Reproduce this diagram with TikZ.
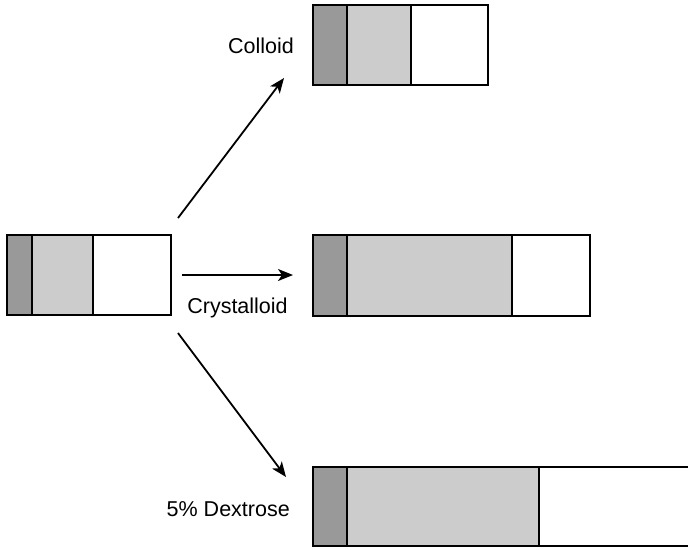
\documentclass[tikz,border=0pt]{standalone}
\usepackage{fontspec}
\setmainfont{Liberation Sans}
\usetikzlibrary{arrows.meta}
\definecolor{darkseg}{HTML}{999999}
\definecolor{lightseg}{HTML}{CCCCCC}
\tikzset{
  seg/.style={draw=black, line width=1.3pt, inner sep=0pt, outer sep=0pt,
    anchor=north west, minimum height=80pt},
  darkpart/.style={seg, fill=darkseg},
  lightpart/.style={seg, fill=lightseg},
  whitepart/.style={seg, fill=white},
  outline/.style={draw=black, line width=2pt},
  flow/.style={line width=1.8pt, -{Stealth[length=15pt, width=12pt, inset=4pt]}},
  lbl/.style={font=\fontsize{21.5}{25}\selectfont, inner sep=0pt}
}
\begin{document}
\begin{tikzpicture}[x=1pt, y=-1pt]
\clip (0,0) rectangle (688,549);
\fill[white] (0,0) rectangle (688,549);

% starting compartments
\node[darkpart, minimum width=25pt] (s1) at (7,235) {};
\node[lightpart, minimum width=61pt] (s2) at (32,235) {};
\node[whitepart, minimum width=78pt] (s3) at (93,235) {};
\draw[outline] (s1.north west) rectangle (s3.south east);

% after colloid
\node[darkpart, minimum width=34pt] (c1) at (313,5) {};
\node[lightpart, minimum width=64pt] (c2) at (347,5) {};
\node[whitepart, minimum width=77pt] (c3) at (411,5) {};
\draw[outline] (c1.north west) rectangle (c3.south east);

% after crystalloid
\node[darkpart, minimum width=34pt, minimum height=81pt] (k1) at (313,235) {};
\node[lightpart, minimum width=165pt, minimum height=81pt] (k2) at (347,235) {};
\node[whitepart, minimum width=78pt, minimum height=81pt] (k3) at (512,235) {};
\draw[outline] (k1.north west) rectangle (k3.south east);

% after 5% dextrose (runs past the right edge)
\node[darkpart, minimum width=34pt, minimum height=79pt] (d1) at (313,467) {};
\node[lightpart, minimum width=192pt, minimum height=79pt] (d2) at (347,467) {};
\node[whitepart, minimum width=170pt, minimum height=79pt] (d3) at (539,467) {};
\draw[outline] (d1.north west) rectangle (d3.south east);

% arrow end points
\coordinate (a1) at (178,218);
\coordinate (b1) at (284,78);
\coordinate (a2) at (182,275);
\coordinate (b2) at (293,275);
\coordinate (a3) at (178,333);
\coordinate (b3) at (286,477);

\draw[flow] (a1) -- (b1);
\draw[flow] (a2) -- (b2);
\draw[flow] (a3) -- (b3);

% labels
\node[lbl, anchor=east] (lc) at (294,46) {Colloid};
\node[lbl] (lk) at (237.5,308) {Crystalloid};
\node[lbl, anchor=east] (ld) at (290,509) {5\% Dextrose};
\end{tikzpicture}
\end{document}
